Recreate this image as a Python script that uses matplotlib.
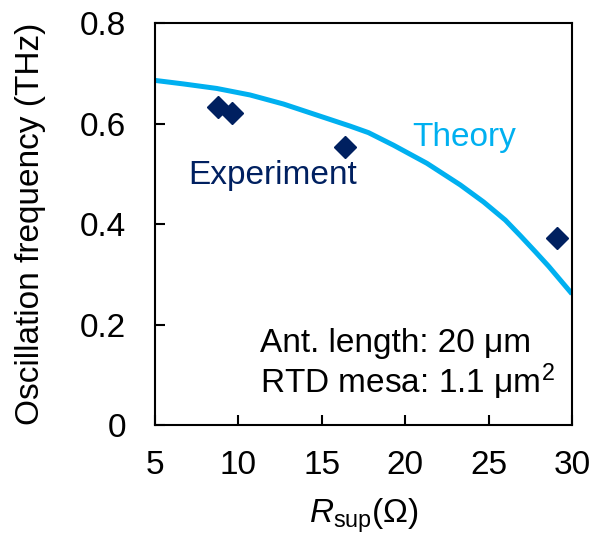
import matplotlib
matplotlib.use("Agg")
import matplotlib.pyplot as plt

plt.rcParams["font.family"] = ["Liberation Sans", "DejaVu Sans"]
plt.rcParams["mathtext.fontset"] = "custom"
plt.rcParams["mathtext.rm"] = "Liberation Sans"
plt.rcParams["mathtext.it"] = "Liberation Sans:italic"

# Theoretical oscillation frequency vs. supply resistance
theory_r = [5.0, 6.7, 8.7, 10.7, 12.7, 14.7, 16.7, 17.8, 19.3, 21.3,
            23.3, 24.7, 26.0, 26.9, 27.8, 28.6, 30.0]
theory_f = [0.686, 0.679, 0.670, 0.657, 0.639, 0.617, 0.595, 0.582,
            0.557, 0.521, 0.478, 0.444, 0.408, 0.377, 0.345, 0.316, 0.261]

# Measured oscillation frequencies
exp_r = [8.8, 9.6, 16.4, 29.1]
exp_f = [0.633, 0.621, 0.554, 0.372]

x_ticks = [5, 10, 15, 20, 25, 30]
y_ticks = [0, 0.2, 0.4, 0.6, 0.8]
y_tick_labels = ["0", "0.2", "0.4", "0.6", "0.8"]

theory_color = "#00B0F0"
exp_color = "#002060"
fs = 24

fig = plt.figure(figsize=(5.9, 5.38), dpi=100)
ax = fig.add_axes([0.2627, 0.21, 0.7068, 0.747])

ax.plot(theory_r, theory_f, color=theory_color, lw=3.6,
        solid_capstyle="butt", solid_joinstyle="round", zorder=2)
ax.plot(exp_r, exp_f, linestyle="none", marker="D", ms=11, color=exp_color, zorder=3)

ax.set_xlim(5, 30)
ax.set_ylim(0, 0.8)
ax.set_xticks(x_ticks)
ax.set_xticklabels([str(v) for v in x_ticks])
ax.set_yticks(y_ticks)
ax.set_yticklabels(y_tick_labels)

for s in ax.spines.values():
    s.set_linewidth(1.5)
    s.set_color("black")

ax.tick_params(axis="both", direction="in", length=7, width=1.5, labelsize=fs,
               colors="black")
ax.tick_params(axis="x", pad=18)
ax.tick_params(axis="y", pad=21)

ax.set_xlabel(r"$\mathit{R}_{\mathrm{sup}}$(Ω)", fontsize=fs, labelpad=11)
ax.set_ylabel("Oscillation frequency (THz)", fontsize=fs, labelpad=24)

ax.text(20.4, 0.573, "Theory", color=theory_color, fontsize=fs, va="center", ha="left")
ax.text(6.98, 0.497, "Experiment", color=exp_color, fontsize=fs, va="center", ha="left")
ax.text(11.3, 0.163, "Ant. length: 20 μm", color="black", fontsize=fs, va="center", ha="left")
ax.text(11.3, 0.086, "RTD mesa: 1.1 μm$^2$", color="black", fontsize=fs, va="center", ha="left")

fig.savefig("out.png", dpi=100)
